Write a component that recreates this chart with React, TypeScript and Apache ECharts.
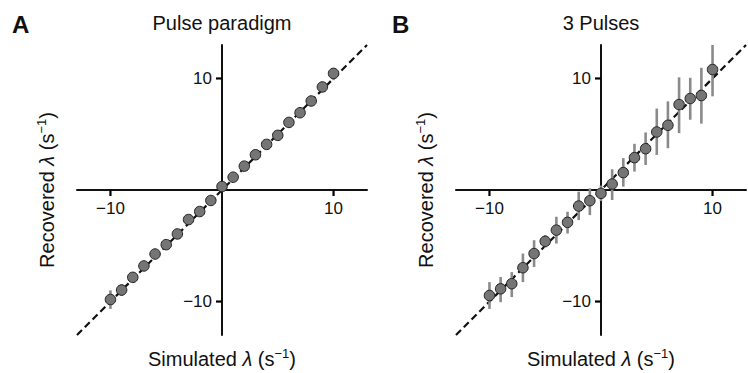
import React, { useEffect, useRef } from "react";
import * as echarts from "echarts";

const simulated = [-10, -9, -8, -7, -6, -5, -4, -3, -2, -1, 0, 1, 2, 3, 4, 5, 6, 7, 8, 9, 10];

// Panel A: Pulse paradigm
const pulseRecovered = [-9.82, -8.97, -7.83, -6.81, -5.74, -4.9, -3.94, -2.65, -1.93, -0.94, 0.31, 1.15, 2.14, 3.16, 4.09, 4.9, 6.06, 6.93, 7.98, 9.24, 10.45];
const pulseLow = [-10.66, -9.5, -8.25, -7.15, -6.05, -5.2, -4.25, -2.95, -2.23, -1.24, 0.01, 0.85, 1.84, 2.86, 3.79, 4.6, 5.76, 6.55, 7.6, 8.78, 9.85];
const pulseHigh = [-9.0, -8.45, -7.4, -6.47, -5.43, -4.6, -3.63, -2.35, -1.63, -0.64, 0.61, 1.45, 2.44, 3.46, 4.39, 5.2, 6.36, 7.31, 8.36, 9.7, 10.95];

// Panel B: 3 Pulses
const threeRecovered = [-9.46, -8.86, -8.4, -6.97, -5.7, -4.6, -3.6, -2.9, -1.44, -0.96, -0.3, 0.54, 1.56, 2.9, 3.7, 5.2, 5.8, 7.66, 8.2, 8.47, 10.8];
const threeLow = [-10.66, -10.06, -9.6, -8.26, -6.9, -5.16, -4.8, -3.9, -2.7, -2.25, -1.0, -0.9, 0.3, 1.65, 2.25, 3.15, 3.75, 5.1, 6.3, 5.95, 8.4];
const threeHigh = [-8.26, -7.8, -7.36, -5.7, -4.5, -4.05, -2.4, -1.95, -0.15, 0.15, 0.4, 1.86, 2.86, 4.14, 5.16, 7.3, 7.95, 10.1, 10.06, 10.96, 13.0];

const axisRange = [-13, 13];
const tickValues = [-10, 10];
const panelTitles = ["Pulse paradigm", "3 Pulses"];
const panelLetters = ["A", "B"];

const FONT = "Liberation Sans, Arial, Helvetica, sans-serif";
const GRID_SIZE = 290;
const TICK_LEN = 6;

const fmt = (v: number) => (v < 0 ? "\u2212" + Math.abs(v) : String(v));

const rich = {
  a: { fontSize: 20, fontFamily: FONT, color: "#111", lineHeight: 24 },
  i: { fontSize: 20, fontFamily: FONT, color: "#111", fontStyle: "italic", lineHeight: 24 },
  s: { fontSize: 13, fontFamily: FONT, color: "#111", lineHeight: 12, verticalAlign: "top" },
};

function makeAxis(kind: "x" | "y", gridIndex: number) {
  return {
    type: "value",
    gridIndex,
    position: kind === "x" ? "bottom" : "left",
    offset: -GRID_SIZE / 2,
    min: axisRange[0],
    max: axisRange[1],
    name:
      kind === "x"
        ? "{a|Simulated }{i|λ}{a| (s}{s|\u22121}{a|)}"
        : "{a|Recovered }{i|λ}{a| (s}{s|\u22121}{a|)}",
    nameLocation: "middle",
    nameGap: kind === "x" ? 157 : 163,
    nameTextStyle: { rich },
    axisLine: { show: true, onZero: false, lineStyle: { color: "#111", width: 2 } },
    axisTick: { show: false },
    axisLabel: {
      show: true,
      customValues: tickValues,
      formatter: fmt,
      fontSize: 17,
      fontFamily: FONT,
      color: "#111",
      margin: 10,
    },
    splitLine: { show: false },
  };
}

// tick marks: one custom item per tick value, drawn outward from the crossing axes
function tickMarks(gridIndex: number, kind: "x" | "y") {
  return {
    type: "custom",
    xAxisIndex: gridIndex,
    yAxisIndex: gridIndex,
    z: 6,
    data: tickValues.map((v) => (kind === "x" ? [v, 0] : [0, v])),
    renderItem: (_params: any, api: any) => {
      const p = api.coord([api.value(0), api.value(1)]);
      const shape =
        kind === "x"
          ? { x1: p[0], y1: p[1], x2: p[0], y2: p[1] + TICK_LEN }
          : { x1: p[0], y1: p[1], x2: p[0] - TICK_LEN, y2: p[1] };
      return {
        type: "line",
        shape,
        style: { stroke: "#000", lineWidth: 2.2 },
      };
    },
  };
}

function errorBars(gridIndex: number, low: number[], high: number[]) {
  return {
    type: "custom",
    xAxisIndex: gridIndex,
    yAxisIndex: gridIndex,
    z: 3,
    data: simulated.map((x, i) => [x, low[i], high[i]]),
    renderItem: (_params: any, api: any) => {
      const p1 = api.coord([api.value(0), api.value(1)]);
      const p2 = api.coord([api.value(0), api.value(2)]);
      return {
        type: "line",
        shape: { x1: p1[0], y1: p1[1], x2: p2[0], y2: p2[1] },
        style: { stroke: "#8a8a8a", lineWidth: 2.6 },
      };
    },
  };
}

function identityLine(gridIndex: number) {
  return {
    type: "line",
    xAxisIndex: gridIndex,
    yAxisIndex: gridIndex,
    z: 2,
    symbol: "none",
    data: axisRange.map((v) => [v, v]),
    lineStyle: { color: "#111", width: 2.2, type: [7, 4] },
  };
}

function points(gridIndex: number, ys: number[]) {
  return {
    type: "scatter",
    xAxisIndex: gridIndex,
    yAxisIndex: gridIndex,
    z: 4,
    symbol: "circle",
    symbolSize: 10.5,
    data: simulated.map((x, i) => [x, ys[i]]),
    itemStyle: { color: "#757575", borderColor: "#222", borderWidth: 1, opacity: 1 },
  };
}

export default function App() {
  const ref = useRef<HTMLDivElement>(null);

  useEffect(() => {
    if (!ref.current) return;
    const chart = echarts.init(ref.current, undefined, { renderer: "svg" });
    const gridLefts = [77, 456];
    const titleCenters = [222, 601];
    const letterLefts = [12, 392];
    chart.setOption({
      animation: false,
      backgroundColor: "#ffffff",
      title: [
        ...panelTitles.map((t, i) => ({
          text: t,
          left: titleCenters[i],
          top: 13,
          padding: 0,
          textAlign: "center",
          textStyle: { fontSize: 20, fontWeight: "normal", fontFamily: FONT, color: "#111" },
        })),
        ...panelLetters.map((t, i) => ({
          text: t,
          left: letterLefts[i],
          top: 12,
          padding: 0,
          textStyle: { fontSize: 24, fontWeight: "bold", fontFamily: FONT, color: "#111" },
        })),
      ],
      grid: gridLefts.map((l) => ({
        left: l,
        top: 45,
        width: GRID_SIZE,
        height: GRID_SIZE,
        containLabel: false,
        outerBoundsMode: "none",
      })),
      xAxis: [makeAxis("x", 0), makeAxis("x", 1)],
      yAxis: [makeAxis("y", 0), makeAxis("y", 1)],
      series: [
        identityLine(0),
        errorBars(0, pulseLow, pulseHigh),
        points(0, pulseRecovered),
        tickMarks(0, "x"),
        tickMarks(0, "y"),
        identityLine(1),
        errorBars(1, threeLow, threeHigh),
        points(1, threeRecovered),
        tickMarks(1, "x"),
        tickMarks(1, "y"),
      ],
    });

    return () => chart.dispose();
  }, []);

  return (
    <div
      ref={ref}
      style={{ position: "fixed", left: 0, top: 0, width: 748, height: 373, background: "#fff" }}
    />
  );
}
